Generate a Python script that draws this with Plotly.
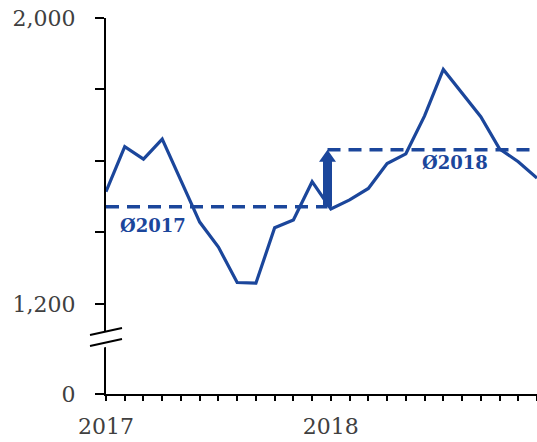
import numpy as np
import plotly.graph_objects as go

# Monthly values, Jan 2017 .. Dec 2018
months_2017 = list(range(0, 12))
months_2018 = list(range(12, 24))
values_2017 = [1514, 1640, 1605, 1661, 1545, 1429, 1359, 1260, 1258, 1413, 1435, 1542]
values_2018 = [1466, 1491, 1523, 1593, 1620, 1726, 1856, 1790, 1724, 1634, 1598, 1552]
year_labels = {0: "2017", 12: "2018"}
avg_labels = ["Ø2017", "Ø2018"]

BLUE = "#1B469B"
GREY = "#404040"
FONT = "DejaVu Serif"

mean_2017 = float(np.mean(values_2017))
mean_2018 = float(np.mean(values_2018))
arrow_x = 11.82         # between the two years
y_floor = 948           # bottom of the broken axis, labelled "0"
px_per_unit = 286 / 800  # vertical scale of the value axis

x_all = months_2017 + months_2018
y_all = values_2017 + values_2018

fig = go.Figure()

fig.add_trace(go.Scatter(
    x=x_all, y=y_all, mode="lines",
    line=dict(color=BLUE, width=3.2), showlegend=False, hoverinfo="skip"))

# yearly averages
fig.add_trace(go.Scatter(
    x=[months_2017[0], arrow_x], y=[mean_2017, mean_2017], mode="lines",
    line=dict(color=BLUE, width=3.5, dash="13px,8px"), showlegend=False))
fig.add_trace(go.Scatter(
    x=[arrow_x, months_2018[-1]], y=[mean_2018, mean_2018], mode="lines",
    line=dict(color=BLUE, width=3.5, dash="13px,8px"), showlegend=False))

# block arrow from the 2017 average up to the 2018 average
head_base = mean_2018 - 12 / px_per_unit
arrow_path = (
    f"M-4.5,{mean_2017} L4.5,{mean_2017} L4.5,{head_base} L8.5,{head_base} "
    f"L0,{mean_2018} L-8.5,{head_base} L-4.5,{head_base} Z")
shapes = [dict(type="path", path=arrow_path, xref="x", yref="y",
               xsizemode="pixel", xanchor=arrow_x,
               fillcolor=BLUE, line=dict(width=0), layer="above")]

annotations = [
    dict(x=2.5, y=mean_2017, yshift=-19, xref="x", yref="y",
         text="<b>%s</b>" % avg_labels[0], showarrow=False,
         font=dict(family=FONT, size=18, color=BLUE)),
    dict(x=18.6, y=mean_2018, yshift=-13, xref="x", yref="y",
         text="<b>%s</b>" % avg_labels[1], showarrow=False,
         font=dict(family=FONT, size=18, color=BLUE)),
]

# axis break marker on the value axis (pixels measured up from the x axis)
brk = dict(xref="paper", yref="paper", xsizemode="pixel", ysizemode="pixel",
           xanchor=0, yanchor=0, layer="above")
shapes += [
    dict(type="path", path="M-17,59 L17,67 L17,51 L-17,43 Z",
         fillcolor="white", line=dict(width=0), **brk),
    dict(type="line", x0=-16, y0=59, x1=16, y1=66,
         line=dict(color="black", width=2), **brk),
    dict(type="line", x0=-16, y0=48, x1=16, y1=55,
         line=dict(color="black", width=2), **brk),
]

x_ticks = list(range(24))
fig.update_layout(
    width=537, height=442,
    margin=dict(l=106, r=0, t=18, b=48),
    paper_bgcolor="white", plot_bgcolor="white",
    font=dict(family=FONT, size=22, color=GREY),
    annotations=annotations, shapes=shapes,
    xaxis=dict(
        range=[0, 23], tickmode="array", tickvals=x_ticks,
        ticktext=[year_labels.get(t, "") for t in x_ticks],
        ticks="outside", ticklen=5, tickwidth=1.6, tickcolor="black",
        showline=True, linecolor="black", linewidth=2,
        showgrid=False, zeroline=False, ticklabelstandoff=7,
        tickfont=dict(family=FONT, size=22, color=GREY)),
    yaxis=dict(
        range=[y_floor, 2000], tickmode="array",
        tickvals=[y_floor, 1200, 1400, 1600, 1800, 2000],
        ticktext=["0", "1,200", "", "", "", "2,000"],
        ticks="outside", ticklen=9, tickwidth=1.6, tickcolor="black",
        showline=True, linecolor="black", linewidth=2,
        showgrid=False, zeroline=False, ticklabelstandoff=15,
        tickfont=dict(family=FONT, size=22, color=GREY)),
)

fig.write_html("out.html")
